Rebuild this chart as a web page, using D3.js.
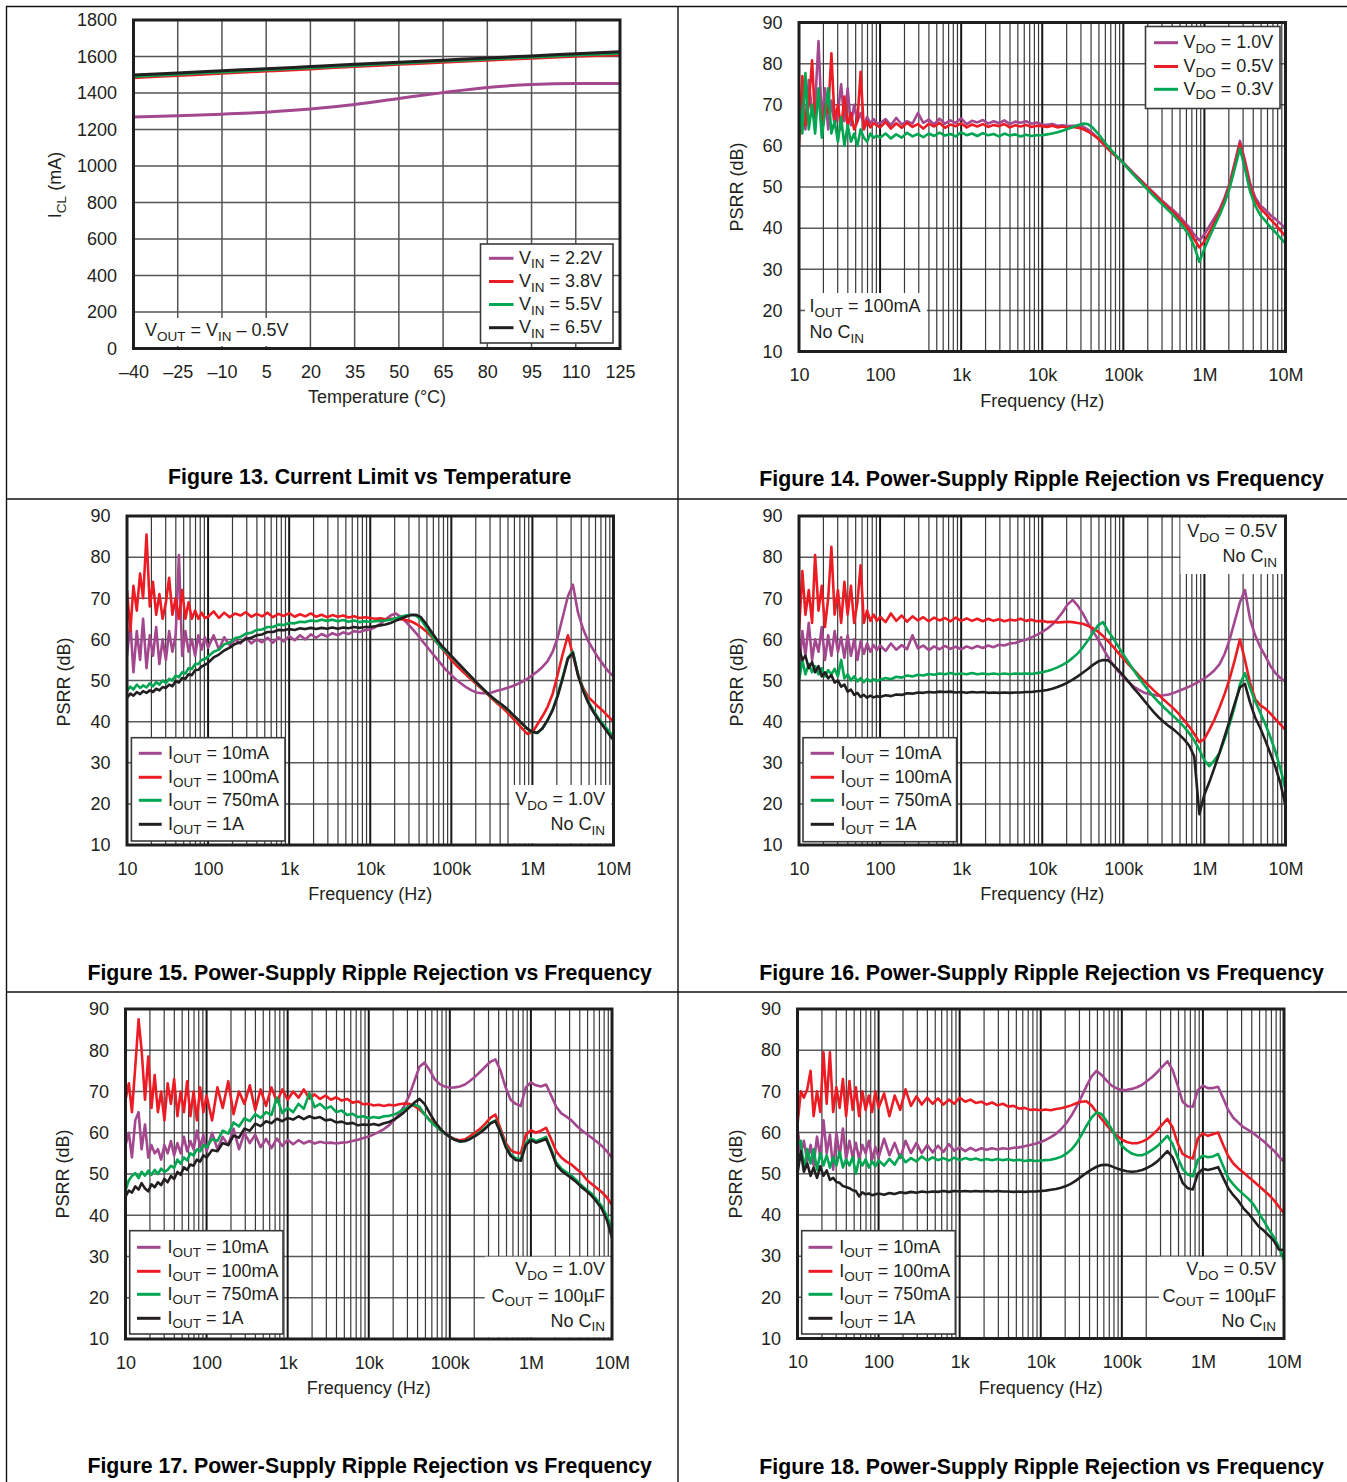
<!DOCTYPE html>
<html>
<head>
<meta charset="utf-8">
<script src="https://cdn.jsdelivr.net/npm/d3@7"></script>
<style>
  html, body { margin: 0; padding: 0; background: #fff; }
  svg { display: block; font-family: "Liberation Sans", Arial, Helvetica, sans-serif; }
  text { white-space: pre; }
</style>
</head>
<body>
<svg id="page" width="1347" height="1482"></svg>
<script>
// ---------- Figure 13: current limit vs temperature ----------
const TEMP = [-40, -25, -10, 5, 20, 35, 50, 65, 80, 95, 110, 125];
const TEMP_TICK_LABELS = ['–40', '–25', '–10', '5', '20', '35', '50', '65', '80', '95', '110', '125'];
const ICL_TICKS = [0, 200, 400, 600, 800, 1000, 1200, 1400, 1600, 1800];
const ICL_VIN_2V2 = [1268, 1275, 1284, 1295, 1312, 1337, 1370, 1402, 1430, 1447, 1452, 1452];
const ICL_VIN_3V8 = [1484, 1496, 1508, 1520, 1532, 1545, 1557, 1569, 1580, 1591, 1601, 1610];
const ICL_VIN_5V5 = [1491, 1503, 1515, 1527, 1539, 1551, 1563, 1575, 1586, 1597, 1608, 1618];
const ICL_VIN_6V5 = [1498, 1510, 1522, 1533, 1545, 1557, 1568, 1580, 1592, 1603, 1615, 1626];
const VIN_LABELS = ['V_{IN} = 2.2V', 'V_{IN} = 3.8V', 'V_{IN} = 5.5V', 'V_{IN} = 6.5V'];

// ---------- PSRR figures: shared frequency points (Hz) ----------
const FREQ = [
  10, 11, 12, 13.2, 14.5, 15.8, 17.4, 19.1, 20.9, 22.9, 25.1, 27.5, 30.2, 33.1, 36.3, 39.8, 43.7, 47.9, 52.5, 57.5, 63.1, 69.2, 75.9, 83.2, 91.2,
  100, 117, 136, 158, 185, 215, 251, 293, 341, 398, 464, 541, 631, 736, 858, 1000, 1170, 1360, 1580, 1850, 2150, 2510, 2930, 3410, 3980, 4640, 5410, 6310, 7360, 8580,
  10e3, 11.5e3, 13.3e3, 15.4e3, 17.8e3, 20.5e3, 23.7e3, 27.4e3, 31.6e3, 36.5e3, 42.2e3, 48.7e3, 56.2e3, 64.9e3, 75e3, 86.6e3,
  100e3, 115e3, 133e3, 154e3, 178e3, 205e3, 237e3, 274e3, 316e3, 365e3, 422e3, 487e3, 562e3, 649e3, 750e3, 866e3,
  1e6, 1.15e6, 1.33e6, 1.54e6, 1.78e6, 2.05e6, 2.37e6, 2.74e6, 3.16e6, 3.65e6, 4.22e6, 4.87e6, 5.62e6, 6.49e6, 7.5e6, 8.66e6, 10e6
];
const FREQ_TICK_VALUES = [10, 100, 1e3, 1e4, 1e5, 1e6, 1e7];
const FREQ_TICK_LABELS = ['10', '100', '1k', '10k', '100k', '1M', '10M'];
const PSRR_TICKS = [10, 20, 30, 40, 50, 60, 70, 80, 90];
const VDO_LABELS = ['V_{DO} = 1.0V', 'V_{DO} = 0.5V', 'V_{DO} = 0.3V'];
const IOUT_LABELS = ['I_{OUT} = 10mA', 'I_{OUT} = 100mA', 'I_{OUT} = 750mA', 'I_{OUT} = 1A'];

// Figure 14: IOUT = 100mA, three dropout voltages (dB)
const F14_VDO_1V0 = [
  66, 72, 64, 76, 68, 70, 85.5, 66, 74, 64, 71, 65, 68, 75, 66, 74, 65, 70, 66, 68, 65, 67, 65.5, 66.5, 65.5,
  65.5, 66.5, 65, 66.8, 65.2, 66, 65.4, 68, 65.6, 66.4, 65.2, 66.6, 65.4, 66.2, 65.6, 66.7, 65.3, 66.1, 65.7, 66.3, 65.4, 66, 65.5, 66.2, 65.3, 65.9, 65.6, 66, 65.4, 65.7,
  65.2, 65.1, 65.3, 64.9, 65, 64.8, 64.9, 64.9, 64.7, 64, 63, 61.8, 60.5, 59.2, 58, 57,
  55.9, 54.7, 53.4, 52.2, 51, 49.8, 48.6, 47.4, 46.3, 45.2, 44.2, 43, 41.6, 40.2, 38.4, 37,
  38.5, 40.5, 42.5, 44.6, 47.5, 51, 56, 61.2, 56.5, 51, 47.5, 45.6, 44.5, 43.2, 42.2, 41.1, 40
];
const F14_VDO_0V5 = [
  60, 77, 65, 70, 80.8, 66, 73, 64, 70, 68, 82.5, 66, 70, 64, 72, 65, 68, 64, 66, 78, 64, 66, 64.5, 65.5, 65,
  64.5, 65.8, 64.2, 65.5, 64.4, 65.6, 64.6, 65.3, 64.2, 65.4, 64.7, 65.6, 64.4, 65.2, 64.8, 65.5, 64.5, 65.2, 64.7, 65.3, 64.6, 65.1, 64.8, 65.3, 64.5, 65, 64.7, 65.1, 64.6, 64.9,
  64.8, 64.6, 64.9, 64.5, 64.7, 64.4, 64.6, 64.4, 64.1, 63.5, 62.7, 61.8, 60.6, 59.3, 58.1, 57,
  55.8, 54.5, 53.2, 52, 50.8, 49.6, 48.4, 47.2, 46, 44.8, 43.7, 42.4, 41, 39.4, 37.3, 35.3,
  36.8, 39, 41.5, 44, 47, 50.5, 55.5, 60.5, 55.8, 50.3, 46.8, 44.8, 43.6, 42.2, 40.9, 39.4, 38
];
const F14_VDO_0V3 = [
  72, 63, 77.7, 64, 70, 63, 74, 62, 68, 74, 63, 66, 61, 67, 60, 65, 61, 63, 60, 64, 62, 61, 63, 62, 62.5,
  62, 63, 61.8, 62.8, 62, 63.2, 62.3, 62.9, 62.1, 63, 62.4, 63.2, 62.5, 62.9, 62.3, 63.3, 62.6, 63, 62.4, 63.1, 62.6, 62.9, 62.3, 63, 62.5, 62.8, 62.3, 62.7, 62.4, 62.6,
  62.6, 62.8, 63, 63.3, 63.7, 64.1, 64.6, 65, 65.4, 65.3, 64.4, 63, 61.4, 59.8, 58.4, 57.1,
  55.8, 54.4, 53, 51.7, 50.4, 49.1, 47.8, 46.6, 45.4, 44.2, 43, 41.6, 40, 38.3, 35.5, 31.8,
  35, 37.8, 40.5, 43.2, 46.2, 49.8, 54.5, 59.4, 54.5, 49, 45.5, 43.2, 41.8, 40.3, 39, 37.6, 36.3
];

// Figure 15: VDO = 1.0V, four load currents (dB)
const F15_IOUT_10MA = [
  56, 64, 52, 62, 55, 65, 53, 61, 56, 63, 54, 60, 55, 62, 57, 61, 80.5, 56, 62, 57, 60, 56, 61, 57.5, 60.5,
  58, 61, 57.5, 60.5, 58.5, 60, 59, 60.5, 59, 60, 59.3, 60.4, 59.2, 60.5, 59.5, 60.8, 59.8, 61, 60, 61.2, 60.4, 61.3, 60.7, 61.5, 61, 61.7, 61.3, 62, 61.8, 62.2,
  62.4, 63, 63.8, 64.8, 65.8, 66.3, 65.5, 64.3, 63, 61.6, 60, 58.5, 57, 55.5, 54, 52.5,
  51.3, 50.2, 49.2, 48.3, 47.6, 47.1, 46.9, 46.9, 47.1, 47.5, 47.8, 48.2, 48.6, 49.1, 49.7, 50.4,
  51.3, 52.2, 53.3, 54.7, 57, 60.5, 65.5, 70.5, 73.3, 66.5, 62.5, 59.6, 57.5, 55.5, 53.8, 52.2, 51
];
const F15_IOUT_100MA = [
  72, 62, 73, 67, 76, 70, 85.5, 68, 74, 66, 71, 65, 69, 75, 66, 70, 65, 72, 65, 69, 65, 67, 65, 66.5, 65.2,
  65.5, 66.8, 65.2, 66.5, 65.4, 66.3, 65.8, 66.6, 65.5, 66.2, 65.6, 66.5, 65.4, 66.2, 65.7, 66.4, 65.5, 66.1, 65.6, 66.3, 65.5, 66, 65.4, 65.9, 65.5, 65.8, 65.3, 65.6, 65.2, 65.4,
  65.2, 65, 65.1, 64.9, 65, 65, 64.9, 64.7, 64.4, 63.8, 63, 62, 60.8, 59.4, 58, 56.5,
  55, 53.7, 52.5, 51.3, 50.2, 49.1, 48, 46.8, 45.6, 44.5, 43.5, 42.3, 41, 39.7, 38.3, 37,
  37.4, 39.3, 41.3, 43.6, 46.8, 51.5, 56.5, 61, 56.2, 51.5, 48.2, 46, 44.8, 43.6, 42.5, 41.2, 40
];
const F15_IOUT_750MA = [
  47.5, 48.5, 47.8, 49, 48.2, 48.8, 48.3, 49.3, 48.6, 49.6, 49, 50, 49.4, 50.4, 50, 51.2, 50.8, 52, 51.7, 53, 52.8, 54, 54, 55, 55.2,
  55.8, 57, 57.5, 58.8, 59.2, 60.3, 60.6, 61.4, 61.6, 62.3, 62.4, 63, 63, 63.6, 63.5, 64, 63.9, 64.3, 64.2, 64.6, 64.4, 64.8, 64.5, 64.8, 64.4, 64.7, 64.3, 64.6, 64.2, 64.4,
  64.3, 64.4, 64.5, 64.6, 64.8, 65.1, 65.5, 65.8, 66, 65.8, 64.8, 63, 61.2, 59.5, 58, 57,
  55.9, 54.6, 53.3, 52, 50.7, 49.4, 48.2, 47, 45.9, 44.9, 44, 43, 41.8, 40.6, 39.4, 38.2,
  37.4, 37.2, 38.3, 40.3, 43, 46.5, 51, 55.5, 57, 51.5, 47.8, 45, 42.8, 40.9, 39.3, 37.8, 36.3
];
const F15_IOUT_1A = [
  45.8, 46.8, 46.3, 47.2, 46.7, 47.4, 47, 47.6, 47.2, 48, 47.6, 48.4, 48.2, 49, 48.6, 49.8, 49.5, 50.6, 50.4, 51.5, 51.3, 52.5, 52.6, 53.4, 53.8,
  54.3, 55.6, 56.3, 57.3, 58, 58.9, 59.3, 60.1, 60.4, 61, 61.2, 61.8, 61.8, 62.3, 62.2, 62.5, 62.3, 62.7, 62.5, 62.8, 62.5, 62.8, 62.6, 62.9, 62.6, 62.9, 62.7, 63, 62.8, 63,
  63, 63.2, 63.4, 63.6, 64, 64.5, 65, 65.5, 65.9, 66, 65.4, 63.8, 62, 60.2, 58.6, 57.3,
  56, 54.7, 53.4, 52.1, 50.8, 49.5, 48.3, 47.1, 46, 45, 44.1, 43.1, 41.9, 40.7, 39.5, 38.3,
  37.5, 37.3, 38.4, 40.4, 42.8, 46.2, 50.6, 55.3, 56.7, 51.2, 47.5, 44.6, 42.4, 40.5, 38.8, 37.1, 35.5
];

// Figure 16: VDO = 0.5V, four load currents (dB)
const F16_IOUT_10MA = [
  52, 62, 56, 64, 55, 60, 57, 63, 55, 61, 56, 62, 57, 60.5, 55.5, 61, 56, 60, 55, 59.5, 56.5, 59, 57, 58.6, 57.4,
  58.5, 57.2, 59, 57.5, 58.6, 57.6, 61, 57.8, 58.5, 57.4, 58.3, 57.6, 58.4, 57.7, 58.2, 57.6, 58.3, 57.8, 58.4, 57.9, 58.5, 58.1, 58.7, 58.5, 59, 59.1, 59.6, 59.9, 60.5, 61.1,
  61.8, 62.6, 63.6, 65, 66.6, 68.5, 69.6, 68.2, 66.3, 64, 62, 60, 57.8, 55.7, 53.8, 52.2,
  50.9, 49.7, 48.6, 47.8, 47.1, 46.7, 46.5, 46.3, 46.4, 46.6, 47, 47.5, 48, 48.5, 49.1, 49.8,
  50.5, 51.4, 52.5, 54, 56.5, 60, 64.5, 69, 72, 65, 61, 58.2, 56, 53.6, 51.8, 50.6, 49.7
];
const F16_IOUT_100MA = [
  62, 76.6, 66, 72, 64, 80.5, 67, 73, 63, 70, 82.5, 66, 72, 64, 74, 66, 73, 64, 69, 78, 64, 67, 64.5, 66, 64.5,
  65.5, 64.2, 66.3, 64.5, 65.8, 64.3, 65.6, 64.6, 65.4, 64.4, 65.3, 64.6, 65.2, 64.4, 65.3, 64.5, 65.1, 64.5, 65, 64.4, 65, 64.5, 64.9, 64.4, 64.8, 64.6, 65, 64.5, 64.8, 64.4,
  64.5, 64.2, 64.3, 64.1, 64.2, 64.3, 64.2, 64, 63.8, 63.3, 62.7, 61.9, 60.8, 59.6, 58.2, 56.7,
  55.3, 54, 52.7, 51.3, 50, 48.8, 47.6, 46.5, 45.3, 44.2, 43.1, 41.8, 40.3, 38.8, 37, 35,
  35.8, 38, 40.5, 43.5, 46.8, 50.5, 55, 60, 55, 49.5, 45.5, 44, 43.2, 42, 40.6, 39.3, 37.9
];
const F16_IOUT_750MA = [
  50, 55, 51.5, 54, 52, 53.5, 51.5, 53, 51, 52.5, 51.5, 52.8, 51, 55, 50.5, 51.5, 50, 51, 49.8, 50.6, 49.6, 50.4, 49.8, 50.3, 49.9,
  50.2, 50.6, 50.3, 50.9, 50.7, 51.2, 51, 51.4, 51.2, 51.6, 51.4, 51.7, 51.5, 51.8, 51.5, 51.7, 51.5, 51.8, 51.5, 51.7, 51.5, 51.7, 51.5, 51.7, 51.5, 51.7, 51.6, 51.7, 51.6, 51.8,
  52, 52.3, 52.7, 53.2, 53.8, 54.5, 55.5, 56.6, 58, 59.7, 61.6, 63.4, 64.2, 62, 60.3, 58.3,
  56.3, 54.5, 52.6, 50.8, 49.1, 47.5, 46, 44.7, 43.5, 42.3, 41.2, 40, 38.7, 37.2, 35.4, 33.2,
  30.6, 29.2, 30.6, 32.4, 35.8, 39.4, 43.8, 49, 51.8, 48.2, 45, 42.2, 39.5, 36.3, 32.8, 28.5, 23.5
];
const F16_IOUT_1A = [
  58, 55, 56, 53, 54.5, 52, 53.5, 51, 52, 50.5, 51.3, 49.5, 50, 48.5, 49, 47.3, 47.8, 46.5, 47, 46, 46.5, 45.8, 46.3, 45.9, 46.2,
  46, 46.4, 46.2, 46.6, 46.5, 46.9, 46.8, 47.1, 47, 47.2, 47.1, 47.3, 47.2, 47.3, 47.1, 47.2, 47, 47.2, 47.1, 47.2, 47, 47.1, 47, 47.1, 47, 47.1, 47.1, 47.2, 47.2, 47.4,
  47.5, 47.7, 48, 48.4, 48.9, 49.5, 50.2, 51, 51.9, 52.8, 53.8, 54.6, 55, 54.9, 53.8, 52.5,
  51.2, 49.8, 48.2, 46.8, 45.3, 43.8, 42.3, 41, 39.9, 38.9, 38, 36.9, 35.7, 34.2, 31.5, 17.5,
  22.3, 25.3, 28.8, 32.5, 36.5, 40.3, 44.5, 48.3, 49.2, 44.7, 41, 38.5, 35.5, 32.3, 29, 25, 19.5
];

// Figure 17: VDO = 1.0V, COUT = 100uF (dB)
const F17_IOUT_10MA = [
  57, 60, 54, 63, 65, 56, 62, 54, 57, 55, 56, 53.5, 57, 55, 58, 54.5, 57.5, 55, 59, 55.5, 58, 56, 60.5, 56.5, 59.5,
  55.5, 60, 56, 59, 57, 61, 56, 60, 57.5, 59.5, 56.5, 58.5, 56.3, 58.6, 56.8, 58.3, 57.2, 58.2, 57.4, 58, 57.4, 57.8, 57.5, 57.6, 57.4, 57.6, 57.7, 58, 58.3, 58.7,
  59.1, 59.6, 60.2, 60.9, 61.8, 63, 64.5, 66.5, 69, 72.5, 76, 77, 75.2, 73, 71.8, 71.2,
  70.9, 71, 71.2, 71.7, 72.6, 73.6, 74.8, 76, 77.2, 77.8, 75, 71, 68, 67, 66.5, 71,
  72.2, 71.5, 71.2, 71.7, 69, 66.3, 64.7, 63.9, 63, 61.7, 60.6, 59.7, 58.8, 57.8, 56.8, 55.5, 54
];
const F17_IOUT_100MA = [
  68, 72, 65, 76, 87.5, 80, 68, 78.5, 66, 74, 65, 70, 63, 72, 67, 73, 64, 70, 65, 72.5, 64, 70, 63, 71, 65,
  69, 63, 71, 66, 72.5, 64.5, 70, 67, 71.5, 65.5, 70.5, 66.5, 71, 67.5, 70.5, 68, 70, 68.5, 70.5, 68.3, 69.3, 68.2, 69, 68, 68.6, 67.8, 68.2, 67.3, 67.6, 66.9,
  67, 66.6, 66.8, 66.5, 66.8, 66.6, 66.9, 67.1, 67, 66.5, 65.6, 64.5, 63.2, 62, 60.8, 59.8,
  59, 58.5, 58.2, 58.4, 59.2, 60, 61, 62.2, 63.6, 64.4, 61, 57.6, 55.8, 55.2, 55, 59.5,
  60.6, 60, 60.5, 61.2, 58.4, 55.5, 54, 53, 52.3, 51.2, 50.2, 48.6, 47.6, 46.6, 45.6, 44.3, 42.5
];
const F17_IOUT_750MA = [
  46, 48.5, 49.5, 50.2, 49, 50.5, 49.6, 50.8, 49.8, 51, 50, 51.3, 50.5, 51, 52, 51.5, 53.5, 52.5, 54, 53.3, 55, 54.5, 56, 55.5, 57,
  56.5, 58.5, 58, 60.5, 59.8, 62.5, 61.5, 63.5, 62.8, 64.5, 63.6, 65, 64.3, 68.5, 64.8, 66, 65, 67, 65.8, 69.6, 66.2, 67, 65.8, 66.4, 65, 65.4, 64.3, 64.6, 63.8, 64,
  63.5, 63.8, 63.6, 64, 64.1, 64.4, 65, 65.8, 66.4, 66.8, 66.3, 64.5, 63, 61.8, 60.8, 59.8,
  59, 58.3, 57.9, 58, 58.6, 59.3, 60.2, 61.3, 62.4, 63, 60.3, 57, 54.8, 53.8, 53.6, 57.5,
  58.6, 58, 58.4, 59, 56, 52.8, 51.3, 50.4, 49.6, 48.5, 47.2, 46.2, 45.2, 43.8, 42.2, 39.8, 36.5
];
const F17_IOUT_1A = [
  44.5, 46, 45.5, 47, 46.2, 47.8, 46.5, 45.8, 47.5, 46.8, 48, 47.3, 48.8, 48, 49.5, 48.8, 50.5, 49.8, 51.6, 51, 52.3, 52, 53.5, 53, 54.5,
  54, 55.8, 55.5, 57.5, 57, 59.3, 58.8, 61, 60.5, 62.2, 61.6, 62.8, 62.3, 63.4, 62.8, 63.6, 63.2, 64, 63.3, 64, 63.5, 63.8, 63, 63.2, 62.5, 62.7, 62.2, 62.4, 61.8, 62,
  61.9, 62.1, 61.8, 62.3, 62.6, 63.2, 64, 65, 66.1, 67.3, 68.2, 67, 64.8, 62.8, 61.2, 59.9,
  59, 58.3, 57.9, 58, 58.5, 59.2, 60, 61, 62.2, 62.8, 60, 56.6, 54.4, 53.4, 53.2, 57,
  58.2, 57.6, 58, 58.5, 55.5, 52.3, 50.8, 49.9, 49, 48, 46.8, 45.8, 44.7, 43.2, 41.5, 38.8, 34.5
];

// Figure 18: VDO = 0.5V, COUT = 100uF (dB)
const F18_IOUT_10MA = [
  61, 55, 58, 53, 57, 52, 59, 54, 63, 55, 59.5, 51, 60, 54, 61, 53.5, 58, 54, 57.5, 53.5, 57, 55, 58, 53.5, 56.5,
  54, 58.5, 54.5, 57.5, 53.8, 58, 55, 57.5, 55, 57, 55.2, 56.8, 55.3, 57.2, 55.6, 56.4, 55.5, 56.3, 55.6, 56.2, 55.8, 56.2, 55.9, 56.2, 56, 56.3, 56.4, 56.7, 57, 57.3,
  57.7, 58.2, 58.9, 59.7, 60.8, 62.2, 64, 66.2, 68.6, 71.2, 73.6, 75, 74, 72.6, 71.4, 70.7,
  70.3, 70.4, 70.6, 71, 71.6, 72.5, 73.5, 74.7, 76, 77.3, 75.2, 71.5, 67.5, 66.4, 66.3, 70.3,
  71.4, 70.8, 70.8, 71.1, 68.3, 65.5, 63.6, 62.4, 61.3, 60.6, 59.8, 58.8, 57.9, 56.7, 55.6, 54.2, 52.9
];
const F18_IOUT_100MA = [
  62, 70, 68.5, 70.5, 75, 64, 70, 65, 79.5, 67, 79.5, 65, 71, 66, 73, 64, 72.5, 65.5, 71, 64, 70, 65.5, 69, 65, 70,
  66, 69.5, 64, 69, 65.5, 70.5, 66.5, 68.8, 66.8, 68.5, 67, 68.3, 66.8, 68, 67, 68.5, 67.5, 68, 67.2, 67.5, 66.8, 67.3, 66.6, 67, 66.3, 66.5, 65.8, 66, 65.5, 65.6,
  65.4, 65.6, 65.4, 65.7, 65.9, 66.2, 66.6, 67.1, 67.5, 67.6, 66.6, 65, 63.3, 61.8, 60.4, 59.2,
  58.3, 57.7, 57.4, 57.4, 57.8, 58.4, 59.4, 60.6, 62, 63.3, 61.3, 57.5, 54.8, 54.1, 53.7, 58.6,
  59.8, 59.2, 59.6, 60, 57, 54.3, 52.5, 51.3, 50.3, 49.2, 48.2, 47.1, 46, 44.9, 43.6, 42, 40.4
];
const F18_IOUT_750MA = [
  57, 58, 51, 56, 52.5, 56, 51, 55, 52, 54.5, 51.5, 54, 52, 55.3, 51.5, 53.5, 52, 54, 50, 53.5, 52, 53.5, 51.5, 53, 51.8,
  53.2, 52, 53.6, 52.2, 54.6, 52.8, 53.8, 53, 54.2, 53.2, 54, 53.3, 53.8, 53.2, 53.9, 53.3, 53.8, 53.4, 53.7, 53.3, 53.6, 53.3, 53.6, 53.3, 53.5, 53.2, 53.4, 53.1, 53.3, 53.1,
  53.2, 53.3, 53.4, 53.7, 54.1, 54.8, 55.8, 57.3, 59.3, 61.6, 63.6, 64.9, 64.5, 62.8, 60.8, 58.5,
  56.8, 55.7, 54.9, 54.5, 54.5, 55, 55.8, 56.7, 57.9, 59.2, 57.3, 54, 51.2, 49.8, 49.4, 53.4,
  54.4, 54, 54.2, 54.8, 51.8, 49, 47.4, 46.1, 45, 43.9, 42.5, 40.5, 38.6, 36.5, 34.6, 32.2, 29
];
const F18_IOUT_1A = [
  50, 55.5, 50.5, 52.5, 49.5, 51.5, 49, 51.8, 49.5, 50.8, 48.5, 49, 48, 47.8, 47, 46.8, 46.5, 46, 45.8, 44.5, 45.5, 45, 45.2, 44.8, 45,
  45.2, 44.9, 45.3, 45.1, 45.5, 45.3, 45.6, 45.4, 45.7, 45.5, 45.7, 45.6, 45.8, 45.6, 45.8, 45.7, 45.8, 45.7, 45.8, 45.7, 45.8, 45.7, 45.8, 45.7, 45.7, 45.6, 45.7, 45.6, 45.7, 45.7,
  45.8, 45.9, 46.1, 46.3, 46.6, 47, 47.6, 48.4, 49.3, 50.2, 51, 51.7, 52.1, 52.2, 51.8, 51.3,
  50.9, 50.6, 50.5, 50.6, 50.9, 51.4, 52.1, 53, 54.2, 55.5, 54, 51, 47.8, 46.5, 46.2, 50,
  51.2, 50.9, 51.2, 51.6, 49, 46.5, 44.8, 43.4, 41.6, 40.3, 38.8, 37.2, 36.2, 35, 33.7, 31.6, 31.5
];

// ---------- drawing ----------
const INK = '#231f20';
const SERIES_COLORS = ['#a3488f', '#ec1c24', '#00a651', '#231f20'];
const FONT = '"Liberation Sans", Arial, Helvetica, sans-serif';
const svg = d3.select('#page');

// Text with "_{...}" subscripts rendered as lowered, smaller tspans
function rich(parent, x, y, str, anchor = 'start', size = 18, rotate = false) {
  const t = parent.append('text')
    .attr('font-size', size).attr('fill', INK).attr('text-anchor', anchor)
    .attr('font-family', FONT);
  if (rotate) t.attr('transform', `translate(${x},${y}) rotate(-90)`);
  else t.attr('x', x).attr('y', y);
  const re = /_\{([^}]*)\}/g;
  const pieces = [];
  let last = 0, m;
  while ((m = re.exec(str))) {
    if (m.index > last) pieces.push([str.slice(last, m.index), false]);
    pieces.push([m[1], true]);
    last = re.lastIndex;
  }
  if (last < str.length) pieces.push([str.slice(last), false]);
  const shift = size * 0.25;
  let down = false;
  pieces.forEach(([s, isSub]) => {
    const ts = t.append('tspan').text(s);
    if (isSub) {
      ts.attr('font-size', size * 0.75);
      if (!down) { ts.attr('dy', shift); down = true; }
    } else if (down) {
      ts.attr('dy', -shift); down = false;
    }
  });
  return t;
}

function styleAxisText(g) {
  g.select('.domain').remove();
  g.selectAll('.tick line').remove();
  g.selectAll('text').attr('font-size', 18).attr('font-family', FONT).attr('fill', INK);
}

function drawLegend(g, lg, labels, colors) {
  const [x0, y0, x1, y1] = lg.box;
  g.append('rect').attr('x', x0).attr('y', y0).attr('width', x1 - x0).attr('height', y1 - y0)
    .attr('fill', '#fff').attr('stroke', '#3a3a3a').attr('stroke-width', 1.6);
  labels.forEach((lab, i) => {
    g.append('line').attr('x1', lg.lx[0]).attr('x2', lg.lx[1]).attr('y1', lg.ys[i]).attr('y2', lg.ys[i])
      .attr('stroke', colors[i]).attr('stroke-width', 3);
    rich(g, lg.tx, lg.ys[i] + 5.5, lab);
  });
}

function drawNote(g, note) {
  const [x0, y0, x1, y1] = note.box;
  g.append('rect').attr('x', x0).attr('y', y0).attr('width', x1 - x0).attr('height', y1 - y0).attr('fill', '#fff');
  note.lines.forEach(([s, yy]) => rich(g, note.x, yy, s, note.anchor));
}

function drawFrame(g, b) {
  g.append('rect').attr('x', b.l).attr('y', b.t).attr('width', b.r - b.l).attr('height', b.b - b.t)
    .attr('fill', 'none').attr('stroke', '#1e1e1e').attr('stroke-width', 3);
}

// page rules of the figure table
const rules = svg.append('g').attr('stroke', '#111').attr('stroke-width', 1.4);
[[6, 6.5, 1347, 6.5], [6.5, 6, 6.5, 1482], [678, 6, 678, 1482], [6, 499, 1347, 499], [6, 992, 1347, 992]]
  .forEach(([a, b, c, d]) => rules.append('line').attr('x1', a).attr('y1', b).attr('x2', c).attr('y2', d));

// ---------- Figure 13 ----------
(function () {
  const b = { l: 133.5, t: 20, r: 620, b: 348.5 };
  const g = svg.append('g');
  const x = d3.scaleLinear().domain([-40, 125]).range([b.l, b.r]);
  const y = d3.scaleLinear().domain([0, 1800]).range([b.b, b.t]);
  const grid = g.append('g').attr('stroke', '#555').attr('stroke-width', 1.5);
  TEMP.slice(1, -1).forEach(t => grid.append('line').attr('x1', x(t)).attr('x2', x(t)).attr('y1', b.t).attr('y2', b.b));
  ICL_TICKS.slice(1, -1).forEach(v => grid.append('line').attr('x1', b.l).attr('x2', b.r).attr('y1', y(v)).attr('y2', y(v)));

  drawNote(g, { box: [138, 318, 292, 346], x: 145, anchor: 'start', lines: [['V_{OUT} = V_{IN} – 0.5V', 336]] });

  const line = d3.line().x((d, i) => x(TEMP[i])).y(d => y(d)).curve(d3.curveMonotoneX);
  [ICL_VIN_2V2, ICL_VIN_3V8, ICL_VIN_5V5, ICL_VIN_6V5].forEach((s, i) => {
    g.append('path').attr('d', line(s)).attr('fill', 'none').attr('stroke', SERIES_COLORS[i])
      .attr('stroke-width', 3).attr('stroke-linejoin', 'round');
  });

  drawLegend(g, { box: [480.5, 244, 613, 343], lx: [489, 513.5], tx: 519, ys: [258.3, 281.5, 304.5, 327.7] }, VIN_LABELS, SERIES_COLORS);
  drawFrame(g, b);

  const ax = g.append('g').attr('transform', `translate(0,${b.b})`)
    .call(d3.axisBottom(x).tickValues(TEMP).tickFormat((d, i) => TEMP_TICK_LABELS[i]).tickSize(0).tickPadding(16.5));
  styleAxisText(ax);
  const ay = g.append('g').attr('transform', `translate(${b.l},0)`)
    .call(d3.axisLeft(y).tickValues(ICL_TICKS).tickFormat(d3.format('d')).tickSize(0).tickPadding(16.5));
  styleAxisText(ay);

  g.append('text').attr('x', 377).attr('y', 403).attr('text-anchor', 'middle').attr('font-size', 18)
    .attr('font-family', FONT).attr('fill', INK).text('Temperature (°C)');
  rich(g, 61, 185, 'I_{CL} (mA)', 'middle', 18, true);
  g.append('text').attr('x', 369.7).attr('y', 483.5).attr('text-anchor', 'middle').attr('font-size', 21.3)
    .attr('font-weight', 'bold').attr('font-family', FONT).attr('fill', '#000').text('Figure 13. Current Limit vs Temperature');
})();

// ---------- PSRR figures ----------
function psrrPanel(cfg, idx) {
  const b = cfg.box;
  const g = svg.append('g');
  const x = d3.scaleLog().domain([10, 1e7]).range([b.l, b.r]);
  const y = d3.scaleLinear().domain([10, 90]).range([b.b, b.t]);

  // grid: horizontal every 10 dB, vertical at 2..9 of every decade, heavier decade lines
  const gh = g.append('g').attr('stroke', '#5a5a5a').attr('stroke-width', 1.5);
  PSRR_TICKS.slice(1, -1).forEach(v => gh.append('line').attr('x1', b.l).attr('x2', b.r).attr('y1', y(v)).attr('y2', y(v)));
  const minor = [], major = [];
  for (let dec = 10; dec < 1e7; dec *= 10) {
    for (let m = 2; m <= 9; m++) minor.push(dec * m);
    if (dec > 10) major.push(dec);
  }
  const gv = g.append('g').attr('stroke', '#3a3a3a').attr('stroke-width', 1.2);
  minor.forEach(f => gv.append('line').attr('x1', x(f)).attr('x2', x(f)).attr('y1', b.t).attr('y2', b.b));
  const gm = g.append('g').attr('stroke', '#161616').attr('stroke-width', 2);
  major.forEach(f => gm.append('line').attr('x1', x(f)).attr('x2', x(f)).attr('y1', b.t).attr('y2', b.b));

  drawNote(g, cfg.note);

  const clipId = 'clip' + idx;
  g.append('clipPath').attr('id', clipId).append('rect')
    .attr('x', b.l).attr('y', b.t).attr('width', b.r - b.l).attr('height', b.b - b.t);
  const line = d3.line().x(d => x(d[0])).y(d => y(d[1])).curve(d3.curveLinear);
  const lines = g.append('g').attr('clip-path', `url(#${clipId})`);
  cfg.series.forEach((s, i) => {
    const pts = FREQ.map((f, k) => [f, s[k]]).filter(p => p[1] != null);
    lines.append('path').attr('d', line(pts)).attr('fill', 'none').attr('stroke', SERIES_COLORS[i])
      .attr('stroke-width', 2.6).attr('stroke-linejoin', 'round');
  });

  drawLegend(g, cfg.legend, cfg.labels, SERIES_COLORS);
  drawFrame(g, b);

  const ax = g.append('g').attr('transform', `translate(0,${b.b})`)
    .call(d3.axisBottom(x).tickValues(FREQ_TICK_VALUES).tickFormat((d, i) => FREQ_TICK_LABELS[i]).tickSize(0).tickPadding(17));
  styleAxisText(ax);
  const ay = g.append('g').attr('transform', `translate(${b.l},0)`)
    .call(d3.axisLeft(y).tickValues(PSRR_TICKS).tickFormat(d3.format('d')).tickSize(0).tickPadding(16.5));
  styleAxisText(ay);

  g.append('text').attr('x', (b.l + b.r) / 2).attr('y', b.b + 55).attr('text-anchor', 'middle').attr('font-size', 18)
    .attr('font-family', FONT).attr('fill', INK).text('Frequency (Hz)');
  g.append('text').attr('transform', `translate(${cfg.yTitle[0]},${cfg.yTitle[1]}) rotate(-90)`)
    .attr('text-anchor', 'middle').attr('font-size', 18).attr('font-family', FONT).attr('fill', INK).text('PSRR (dB)');
  g.append('text').attr('x', cfg.title[0]).attr('y', cfg.title[1]).attr('text-anchor', 'middle').attr('font-size', 21.3)
    .attr('font-weight', 'bold').attr('font-family', FONT).attr('fill', '#000').text(cfg.title[2]);
}

const PSRR_TITLE = 'Power-Supply Ripple Rejection vs Frequency';
const panels = [
  {
    box: { l: 799, t: 22.5, r: 1285.5, b: 351.5 },
    series: [F14_VDO_1V0, F14_VDO_0V5, F14_VDO_0V3], labels: VDO_LABELS,
    legend: { box: [1145.5, 26.5, 1280, 108.5], lx: [1154, 1178], tx: 1183.5, ys: [42.7, 66.5, 89.3] },
    note: { box: [805, 293, 927, 350], x: 809.5, anchor: 'start', lines: [['I_{OUT} = 100mA', 312], ['No C_{IN}', 338]] },
    yTitle: [742.5, 187], title: [1041.6, 485.7, 'Figure 14. ' + PSRR_TITLE]
  },
  {
    box: { l: 127, t: 516, r: 613.5, b: 845 },
    series: [F15_IOUT_10MA, F15_IOUT_100MA, F15_IOUT_750MA, F15_IOUT_1A], labels: IOUT_LABELS,
    legend: { box: [131.4, 737.7, 285, 841], lx: [138.8, 161.7], tx: 168, ys: [753.3, 777.3, 800.3, 824.3] },
    note: { box: [509.5, 785, 611.5, 843.5], x: 605, anchor: 'end', lines: [['V_{DO} = 1.0V', 805], ['No C_{IN}', 830]] },
    yTitle: [70, 682], title: [369.7, 980, 'Figure 15. ' + PSRR_TITLE]
  },
  {
    box: { l: 799, t: 516, r: 1285.5, b: 845 },
    series: [F16_IOUT_10MA, F16_IOUT_100MA, F16_IOUT_750MA, F16_IOUT_1A], labels: IOUT_LABELS,
    legend: { box: [803, 737.7, 956.6, 841.7], lx: [810.7, 834], tx: 840.5, ys: [753.3, 777.3, 800.3, 824.3] },
    note: { box: [1180.5, 517.5, 1284, 574], x: 1277, anchor: 'end', lines: [['V_{DO} = 0.5V', 537], ['No C_{IN}', 562]] },
    yTitle: [742.5, 682], title: [1041.6, 980, 'Figure 16. ' + PSRR_TITLE]
  },
  {
    box: { l: 125.5, t: 1009, r: 612, b: 1339 },
    series: [F17_IOUT_10MA, F17_IOUT_100MA, F17_IOUT_750MA, F17_IOUT_1A], labels: IOUT_LABELS,
    legend: { box: [129.7, 1230.7, 283, 1334], lx: [137, 160.5], tx: 167.4, ys: [1247.3, 1271.3, 1294.3, 1318.3] },
    note: { box: [484.8, 1256.7, 610.5, 1337.5], x: 605, anchor: 'end',
      lines: [['V_{DO} = 1.0V', 1275], ['C_{OUT} = 100µF', 1301.7], ['No C_{IN}', 1326.7]] },
    yTitle: [69, 1174], title: [369.7, 1473.3, 'Figure 17. ' + PSRR_TITLE]
  },
  {
    box: { l: 797.5, t: 1009, r: 1284, b: 1338.5 },
    series: [F18_IOUT_10MA, F18_IOUT_100MA, F18_IOUT_750MA, F18_IOUT_1A], labels: IOUT_LABELS,
    legend: { box: [801.7, 1230.7, 955.3, 1334], lx: [808.5, 832.4], tx: 839.3, ys: [1247.3, 1271.3, 1294.3, 1318.3] },
    note: { box: [1159, 1256.7, 1282.5, 1337], x: 1276, anchor: 'end',
      lines: [['V_{DO} = 0.5V', 1275], ['C_{OUT} = 100µF', 1301.7], ['No C_{IN}', 1326.7]] },
    yTitle: [742, 1174], title: [1041.6, 1474, 'Figure 18. ' + PSRR_TITLE]
  }
];
panels.forEach((p, i) => psrrPanel(p, i));
</script>
</body>
</html>
